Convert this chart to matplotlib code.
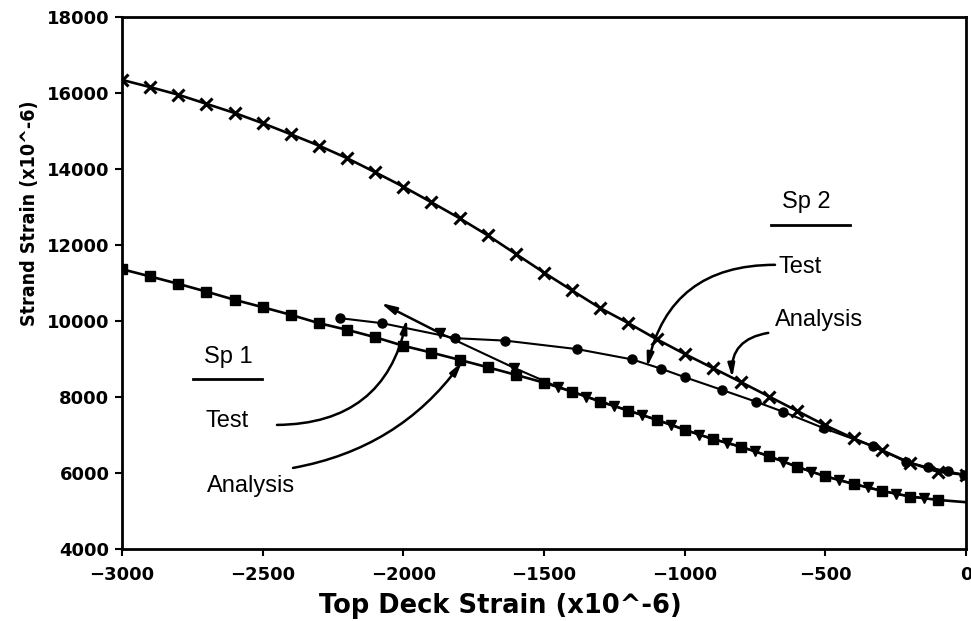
import matplotlib
matplotlib.use("Agg")
import matplotlib.pyplot as plt

# Span 2, analysis (x markers)
sp2_analysis_x = [-3000, -2900, -2800, -2700, -2600, -2500, -2400, -2300, -2200, -2100,
                  -2000, -1900, -1800, -1700, -1600, -1500, -1400, -1300, -1200, -1100,
                  -1000, -900, -800, -700, -600, -500, -400, -300, -200, -100, 0]
sp2_analysis_y = [16340, 16150, 15950, 15710, 15470, 15200, 14910, 14610, 14280, 13910,
                  13530, 13120, 12700, 12250, 11760, 11270, 10800, 10335, 9940, 9520,
                  9130, 8760, 8390, 8010, 7630, 7250, 6910, 6600, 6270, 6030, 5950]

# Span 2, test (circles)
sp2_test_x = [-2224, -2076, -1815, -1637, -1382, -1186, -1085, -1000, -868, -748,
              -652, -505, -332, -213, -136, -64, -6]
sp2_test_y = [10070, 9940, 9545, 9480, 9257, 8985, 8745, 8519, 8185, 7877,
              7614, 7175, 6710, 6290, 6150, 6040, 5950]

# Span 1, analysis (squares)
sp1_analysis_x = [-3000, -2900, -2800, -2700, -2600, -2500, -2400, -2300, -2200, -2100,
                  -2000, -1900, -1800, -1700, -1600, -1500, -1400, -1300, -1200, -1100,
                  -1000, -900, -800, -700, -600, -500, -400, -300, -200, -100, 0]
sp1_analysis_y = [11360, 11170, 10975, 10770, 10555, 10360, 10160, 9940, 9765, 9570,
                  9345, 9165, 8975, 8780, 8580, 8375, 8140, 7875, 7640, 7400,
                  7135, 6890, 6690, 6440, 6160, 5910, 5710, 5530, 5380, 5290, 5230]

# Span 1, test (triangles); the last reading continues as an arrow
sp1_test_x = [-1870, -1605, -1450, -1350, -1250, -1150, -1050, -950, -850, -750,
              -650, -550, -450, -350, -250, -150]
sp1_test_y = [9680, 8760, 8260, 8010, 7760, 7520, 7270, 7010, 6790, 6570,
              6300, 6030, 5810, 5620, 5450, 5330]
sp1_test_arrow_tip = (-2080, 10470)

x_ticks = [-3000, -2500, -2000, -1500, -1000, -500, 0]
y_ticks = [4000, 6000, 8000, 10000, 12000, 14000, 16000, 18000]

fig = plt.figure(figsize=(9.71, 6.21), dpi=100)
ax = fig.add_axes([0.1256, 0.116, 0.8693, 0.857])

ax.plot(sp2_analysis_x, sp2_analysis_y, color="black", lw=1.9,
        marker="x", ms=8, mew=2.2)
ax.plot(sp2_test_x, sp2_test_y, color="black", lw=1.5,
        marker="o", ms=6.5)
ax.plot(sp1_analysis_x, sp1_analysis_y, color="black", lw=1.9,
        marker="s", ms=6.5, markevery=list(range(len(sp1_analysis_x) - 1)))
ax.plot(sp1_test_x, sp1_test_y, color="black", lw=1.5,
        marker="v", ms=7)

arrow = dict(arrowstyle="-|>,head_length=0.9,head_width=0.22", color="black",
             lw=1.8, shrinkA=0, shrinkB=0)
ax.annotate("", xy=sp1_test_arrow_tip, xytext=(sp1_test_x[0], sp1_test_y[0]),
            arrowprops=arrow)

ax.set_xlim(-3000, 0)
ax.set_ylim(4000, 18000)
ax.set_xticks(x_ticks)
ax.set_yticks(y_ticks)
ax.tick_params(direction="out", length=5, width=1.5, labelsize=13)
ax.tick_params(axis="x", pad=7)
ax.tick_params(axis="y", pad=4)
for lab in ax.get_xticklabels() + ax.get_yticklabels():
    lab.set_fontweight("bold")
for sp in ax.spines.values():
    sp.set_linewidth(2)

# labels and callouts
lbl = dict(family=["Liberation Sans", "DejaVu Sans"], fontsize=17, color="black")
ax.text(-2623, 9053, "Sp 1", ha="center", va="center", **lbl)
ax.plot([-2748, -2502], [8474, 8474], color="black", lw=2)
ax.text(-2627, 7369, "Test", ha="center", va="center", **lbl)
ax.text(-2541, 5658, "Analysis", ha="center", va="center", **lbl)

ax.text(-569, 13133, "Sp 2", ha="center", va="center", **lbl)
ax.plot([-693, -412], [12528, 12528], color="black", lw=2)
ax.text(-665, 11422, "Test", ha="left", va="center", **lbl)
ax.text(-679, 10027, "Analysis", ha="left", va="center", **lbl)

call = dict(arrowstyle="-|>,head_length=0.8,head_width=0.2", color="black",
            lw=1.8, shrinkA=0, shrinkB=0)
ax.annotate("", xy=(-1987, 10050), xytext=(-2449, 7263),
            arrowprops=dict(call, connectionstyle="arc3,rad=0.4"))
ax.annotate("", xy=(-1791, 8922), xytext=(-2392, 6132),
            arrowprops=dict(call, connectionstyle="arc3,rad=0.2"))
ax.annotate("", xy=(-1134, 8780), xytext=(-679, 11475),
            arrowprops=dict(call, connectionstyle="arc3,rad=0.4"))
ax.annotate("", xy=(-831, 8500), xytext=(-703, 9684),
            arrowprops=dict(call, connectionstyle="arc3,rad=0.45"))

fig.text(500 / 971, 1 - 606 / 621, "Top Deck Strain (x10^-6)",
         ha="center", va="center", fontsize=18.5, fontweight="bold")
fig.text(30 / 971, 1 - 213 / 621, "Strand Strain (x10^-6)", rotation=90,
         ha="center", va="center", fontsize=14, fontweight="bold",
         fontstretch="condensed")

fig.savefig("out.png", dpi=100)
